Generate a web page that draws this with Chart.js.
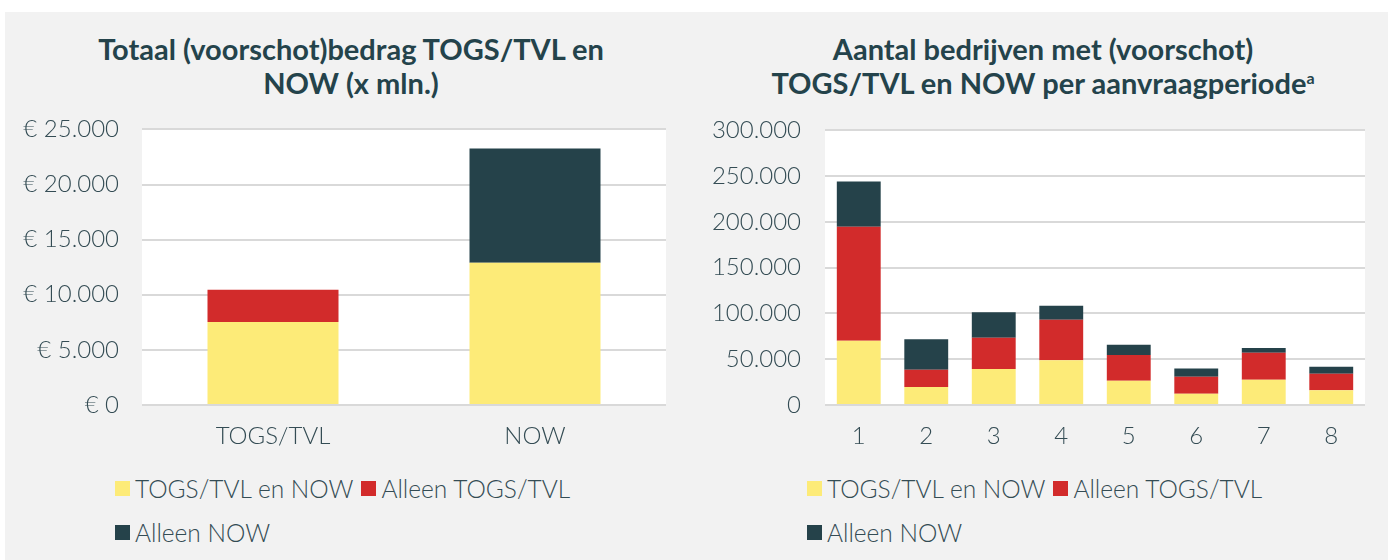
<!DOCTYPE html>
<html>
<head>
<meta charset="utf-8">
<script src="https://cdn.jsdelivr.net/npm/chart.js@4.4.0/dist/chart.umd.min.js"></script>
<style>
  body { margin: 0; background: #fff; width: 1395px; height: 560px; overflow: hidden; font-family: Lato, sans-serif; }
  #panel { position: absolute; left: 5px; top: 12px; width: 1383px; height: 548px; background: #f2f2f2; }
  .title { position: absolute; top: 32px; width: 692px; text-align: center; font-weight: bold; font-size: 29px; line-height: 34px; color: #24434b; }
  .title sup { font-size: 16px; vertical-align: 10px; line-height: 0; }
  .box { position: absolute; }
  .legend { position: absolute; top: 466px; font-size: 24.5px; color: #344c54; font-weight: 300; }
  .legend .row { height: 44px; display: flex; align-items: center; white-space: nowrap; }
  .legend .item { display: flex; align-items: center; margin-right: 8px; }
  .legend .sw { width: 15px; height: 15px; margin-right: 5px; }
</style>
</head>
<body>
<div id="panel"></div>
<div class="title" style="left:5px">Totaal (voorschot)bedrag TOGS/TVL en<br>NOW (x mln.)</div>
<div class="title" style="left:697px">Aantal bedrijven met (voorschot)<br>TOGS/TVL en NOW per aanvraagperiode<sup>a</sup></div>
<div class="box" style="left:0;top:92px;width:697px;height:368px"><canvas id="left"></canvas></div>
<div class="box" style="left:697px;top:92px;width:698px;height:368px"><canvas id="right"></canvas></div>
<div class="legend" id="legLeft" style="left:115px"></div>
<div class="legend" id="legRight" style="left:807px"></div>

<script>
// data
const seriesNames = ['TOGS/TVL en NOW', 'Alleen TOGS/TVL', 'Alleen NOW'];
const seriesColors = ['#fdeb78', '#d22b2b', '#25424a'];

const amountCats = ['TOGS/TVL', 'NOW'];
const amountBoth = [7530, 12910];
const amountTogs = [2930, 0];
const amountNow = [0, 10360];

const periodCats = ['1', '2', '3', '4', '5', '6', '7', '8'];
const periodBoth = [70200, 19700, 39300, 48800, 26600, 12400, 27700, 16000];
const periodTogs = [124500, 18900, 34200, 44400, 28000, 18500, 29400, 18200];
const periodNow = [49500, 33100, 27700, 15200, 11300, 9100, 5100, 7600];

const textColor = '#344c54';
const tickFont = { family: 'Lato', size: 24, weight: '300' };

const plotBg = {
  id: 'plotBg',
  beforeDraw(chart) {
    const { ctx, chartArea: a } = chart;
    ctx.save();
    ctx.fillStyle = '#ffffff';
    ctx.fillRect(a.left, a.top, a.right - a.left, a.bottom - a.top);
    ctx.restore();
  }
};

const nl = v => v.toLocaleString('nl-NL');

function makeChart(id, cats, values, yMax, step, fmt, yWidth, padRight, barPct, tickPad) {
  return new Chart(document.getElementById(id), {
    type: 'bar',
    data: {
      labels: cats,
      datasets: values.map((d, i) => ({
        label: seriesNames[i],
        data: d,
        backgroundColor: seriesColors[i],
        categoryPercentage: 1,
        barPercentage: barPct
      }))
    },
    options: {
      responsive: true,
      maintainAspectRatio: false,
      animation: false,
      layout: { padding: { top: 4, bottom: 10, left: 0, right: padRight } },
      plugins: { legend: { display: false }, tooltip: { enabled: false } },
      scales: {
        x: {
          stacked: true,
          grid: { display: false, drawTicks: false },
          border: { display: false },
          ticks: { font: tickFont, color: textColor, padding: 17 },
          afterFit: s => { s.height = 45; }
        },
        y: {
          stacked: true,
          min: 0, max: yMax,
          grid: { color: '#d9d9d9', lineWidth: 2, drawTicks: false },
          border: { display: false },
          ticks: { stepSize: step, font: tickFont, color: textColor, padding: tickPad, callback: fmt },
          afterFit: s => { s.width = yWidth; }
        }
      }
    },
    plugins: [plotBg]
  });
}

makeChart('left', amountCats, [amountBoth, amountTogs, amountNow], 25000, 5000,
  v => '€ ' + nl(v), 142, 31, 0.5, 23);
makeChart('right', periodCats, [periodBoth, periodTogs, periodNow], 300000, 50000,
  v => nl(v), 128, 30, 0.65, 24);

function buildLegend(id) {
  const el = document.getElementById(id);
  const rows = [[0, 1], [2]];
  rows.forEach(r => {
    const row = document.createElement('div');
    row.className = 'row';
    r.forEach(i => {
      const it = document.createElement('div');
      it.className = 'item';
      it.innerHTML = '<span class="sw" style="background:' + seriesColors[i] + '"></span>' + seriesNames[i];
      row.appendChild(it);
    });
    el.appendChild(row);
  });
}
buildLegend('legLeft');
buildLegend('legRight');
</script>
</body>
</html>
